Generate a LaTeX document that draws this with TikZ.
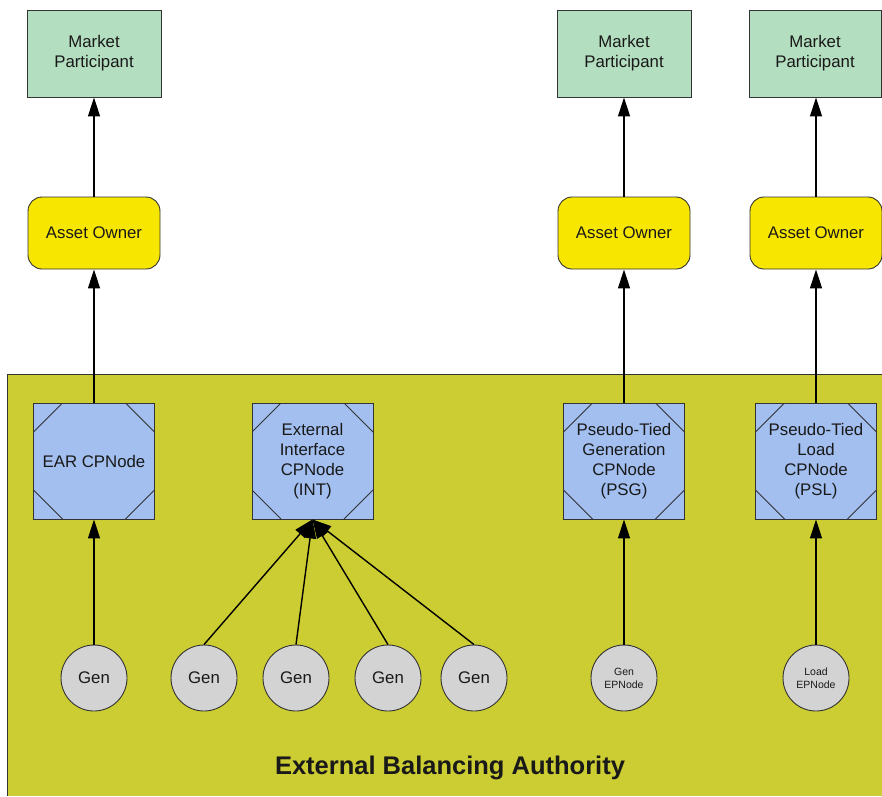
\documentclass[tikz,border=0pt]{standalone}
\usepackage{fontspec}
\setmainfont{Liberation Sans}
\usetikzlibrary{arrows.meta}
\definecolor{mpfill}{HTML}{B4DEC0}
\definecolor{aofill}{HTML}{F7E600}
\definecolor{bafill}{HTML}{CCCC33}
\definecolor{cpfill}{HTML}{A2BFF0}
\definecolor{genfill}{HTML}{D3D3D3}
\definecolor{edge}{HTML}{333333}
\begin{document}
\begin{tikzpicture}[x=1pt,y=-1pt,
  every node/.style={font=\fontsize{16.8}{20}\selectfont, text=black!90, align=center, inner sep=0pt},
  mpbox/.style={draw=edge, line width=0.9pt, fill=mpfill, minimum width=134pt, minimum height=87pt},
  aobox/.style={draw=edge, line width=0.9pt, fill=aofill, rounded corners=14pt, minimum width=132pt, minimum height=72pt},
  cpbox/.style={draw=edge, line width=0.9pt, fill=cpfill, minimum width=121pt, minimum height=116pt,
    path picture={
      \draw[edge, line width=0.8pt] ([yshift=-29pt]path picture bounding box.north west) -- ([xshift=29pt]path picture bounding box.north west);
      \draw[edge, line width=0.8pt] ([yshift=-29pt]path picture bounding box.north east) -- ([xshift=-29pt]path picture bounding box.north east);
      \draw[edge, line width=0.8pt] ([yshift=29pt]path picture bounding box.south west) -- ([xshift=29pt]path picture bounding box.south west);
      \draw[edge, line width=0.8pt] ([yshift=29pt]path picture bounding box.south east) -- ([xshift=-29pt]path picture bounding box.south east);
    }},
  gencirc/.style={draw=edge, line width=0.9pt, fill=genfill, circle, minimum size=66pt},
  conn/.style={line width=1.4pt, -{Triangle[width=12pt,length=19pt]}}
]
\useasboundingbox (0,0) rectangle (882,796);
% background region
\fill[bafill] (7,374) rectangle (882,796);
\draw[edge, line width=0.9pt] (882,374) -- (7,374) -- (7,796);

% Market Participants
\node[mpbox] (mp1) at (94,53.5) {Market\\Participant};
\node[mpbox] (mp2) at (624,53.5) {Market\\Participant};
\node[mpbox, minimum width=132pt] (mp3) at (815,53.5) {Market\\Participant};

% Asset Owners
\node[aobox] (ao1) at (94,233) {Asset Owner};
\node[aobox] (ao2) at (624,233) {Asset Owner};
\node[aobox] (ao3) at (816,233) {Asset Owner};

% CPNodes
\node[cpbox] (ear) at (94,461) {EAR CPNode};
\node[cpbox] (int) at (312.5,461) {External\\Interface\\CPNode\\(INT)};
\node[cpbox] (psg) at (624,461) {Pseudo-Tied\\Generation\\CPNode\\(PSG)};
\node[cpbox] (psl) at (816,461) {Pseudo-Tied\\Load\\CPNode\\(PSL)};

% Gen circles
\node[gencirc] (g0) at (94,678) {Gen};
\node[gencirc] (g1) at (204,678) {Gen};
\node[gencirc] (g2) at (296,678) {Gen};
\node[gencirc] (g3) at (388,678) {Gen};
\node[gencirc] (g4) at (474,678) {Gen};
\node[gencirc, font=\fontsize{10.5}{13}\selectfont] (gep) at (624,678) {Gen\\EPNode};
\node[gencirc, font=\fontsize{10.5}{13}\selectfont] (lep) at (816,678) {Load\\EPNode};

% Title
\node[font=\bfseries\fontsize{25.5}{30}\selectfont] (title) at (450,768) {External Balancing Authority};

% Connectors
\draw[conn] (ao1.north) -- (mp1.south);
\draw[conn] (ao2.north) -- (mp2.south);
\draw[conn] (ao3.north) -- (mp3.south -| ao3.north);
\draw[conn] (ear.north) -- (ao1.south);
\draw[conn] (psg.north) -- (ao2.south);
\draw[conn] (psl.north) -- (ao3.south);
\draw[conn] (g0.north) -- (ear.south);
\draw[conn] (gep.north) -- (psg.south);
\draw[conn] (lep.north) -- (psl.south);
\draw[conn] (g1.north) -- (int.south);
\draw[conn] (g2.north) -- (int.south);
\draw[conn] (g3.north) -- (int.south);
\draw[conn] (g4.north) -- (int.south);
\end{tikzpicture}
\end{document}
